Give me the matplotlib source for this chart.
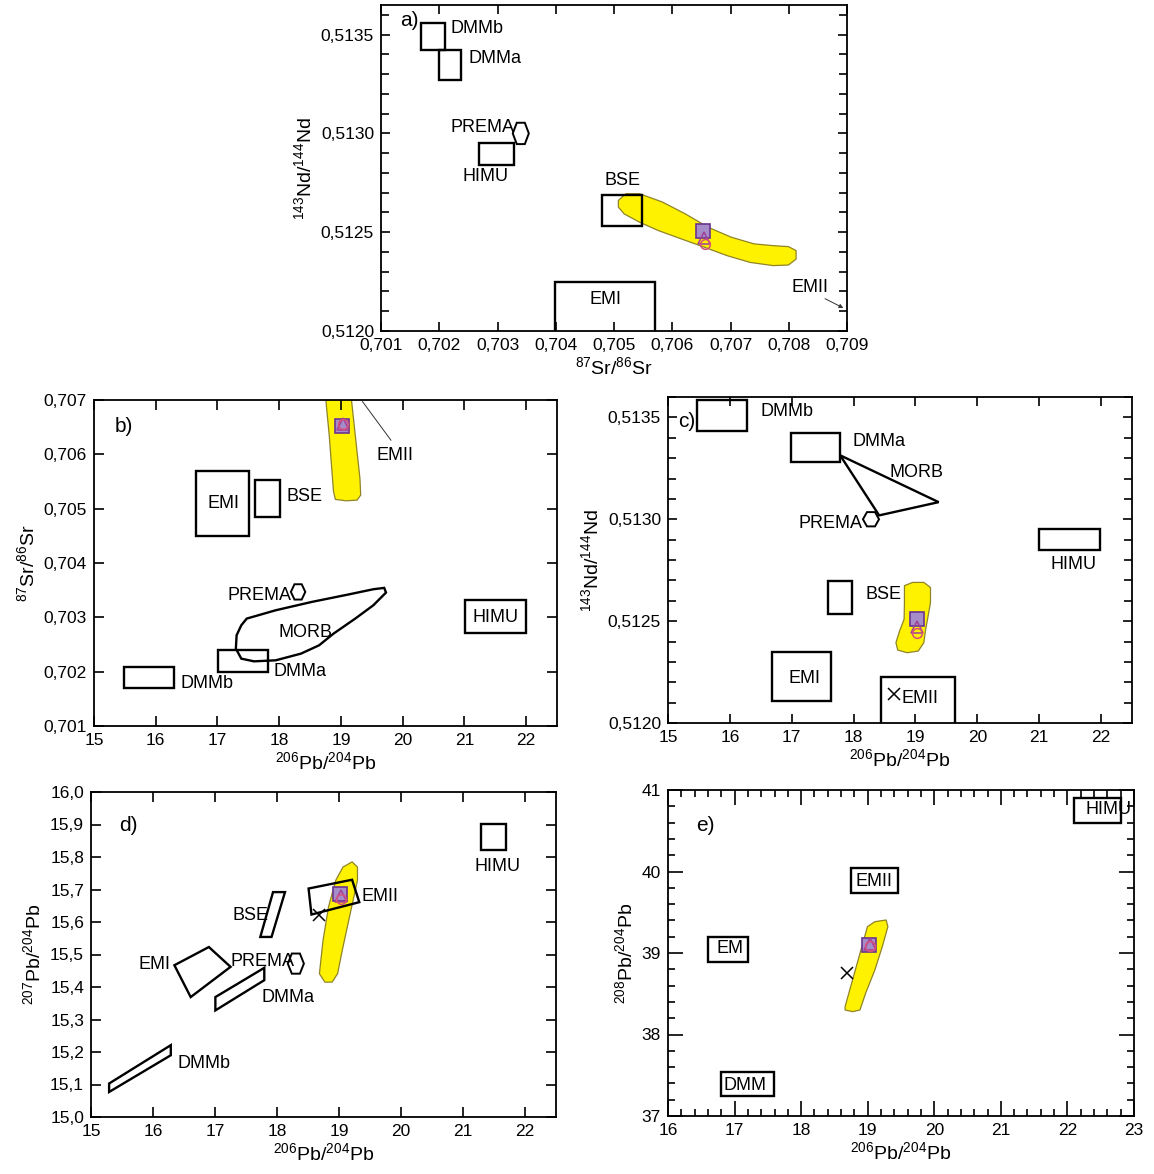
import numpy as np
import matplotlib.pyplot as plt
from matplotlib.patches import Rectangle, Polygon
from matplotlib.ticker import MultipleLocator, FuncFormatter

plt.rcParams['font.family'] = ['Liberation Sans', 'DejaVu Sans']
plt.rcParams['mathtext.default'] = 'regular'
plt.rcParams['font.size'] = 12

W, H = 1154, 1174

# ---- samples (square, triangle, circle) ----
smp_sr = [0.70652, 0.70655, 0.70656]
smp_nd = [0.512508, 0.51247, 0.51244]
smp_pb206 = [19.02, 19.03, 19.03]
smp_pb207 = [15.685, 15.68, 15.672]
smp_pb208 = [39.10, 39.11, 39.09]

# ---- a) Sr vs Nd ----
a_boxes = [('DMMb', 0.70168, 0.70210, 0.51342, 0.51356),
           ('DMMa', 0.70199, 0.70238, 0.51327, 0.51342),
           ('HIMU', 0.70269, 0.70328, 0.51284, 0.51295),
           ('BSE', 0.70479, 0.70548, 0.51253, 0.51269),
           ('EMI', 0.70399, 0.70570, 0.51190, 0.51225)]
a_prema = (0.70340, 0.51300, 0.000138, 0.000054)
a_field_x = [0.705075, 0.705206, 0.705436, 0.705829, 0.706223, 0.706617, 0.707010,
             0.707404, 0.707732, 0.707995, 0.708126, 0.708126, 0.707995, 0.707732,
             0.707339, 0.706945, 0.706551, 0.706157, 0.705764, 0.705436, 0.705173, 0.705075]
a_field_y = [0.512661, 0.512695, 0.512695, 0.512653, 0.512593, 0.512525, 0.512475,
             0.512441, 0.512432, 0.512427, 0.512407, 0.512364, 0.512334, 0.512331,
             0.512347, 0.512381, 0.512424, 0.512466, 0.512508, 0.512551, 0.512593, 0.512627]

# ---- b) 206Pb vs Sr ----
b_boxes = [('EMI', 16.653, 17.509, 0.704500, 0.705698),
           ('BSE', 17.60, 18.01, 0.704850, 0.705526),
           ('DMMa', 17.005, 17.814, 0.701994, 0.702393),
           ('DMMb', 15.492, 16.301, 0.701705, 0.702086),
           ('HIMU', 21.008, 22.005, 0.702719, 0.703314)]
b_prema = (18.306, 0.703468, 0.117, 0.000141)
b_morb_x = [17.474, 17.943, 18.529, 19.115, 19.525, 19.701, 19.730, 19.525, 19.232,
            18.880, 18.646, 18.353, 17.943, 17.591, 17.386, 17.298, 17.310, 17.386]
b_morb_y = [0.702977, 0.703130, 0.703284, 0.703419, 0.703517, 0.703542, 0.703456,
            0.703222, 0.702977, 0.702700, 0.702485, 0.702332, 0.702209, 0.702190,
            0.702240, 0.702424, 0.702670, 0.702854]
b_field_x = [18.752, 19.162, 19.203, 19.261, 19.308, 19.320, 19.261, 19.086, 18.910,
             18.880, 18.851, 18.810, 18.763]
b_field_y = [0.707092, 0.707092, 0.706662, 0.706048, 0.705557, 0.705249, 0.705157,
             0.705145, 0.705170, 0.705311, 0.705741, 0.706355, 0.706908]

# ---- c) 206Pb vs Nd ----
c_boxes = [('DMMb', 15.469, 16.280, 0.513433, 0.513585),
           ('DMMa', 16.983, 17.782, 0.513281, 0.513421),
           ('HIMU', 20.998, 21.989, 0.512849, 0.512950),
           ('BSE', 17.584, 17.981, 0.512534, 0.512698),
           ('EMI', 16.683, 17.632, 0.512107, 0.512348),
           ('EMII', 18.444, 19.645, 0.511900, 0.512227)]
c_prema = (18.281, 0.513000, 0.13, 0.000035)
c_morb_x = [17.782, 19.375, 18.413]
c_morb_y = [0.513314, 0.513084, 0.513019]
c_cross = (18.654, 0.512144)
c_field_x = [18.822, 18.954, 19.135, 19.243, 19.243, 19.195, 19.165, 19.135, 19.044,
             18.864, 18.714, 18.684, 18.744, 18.816, 18.822]
c_field_y = [0.512674, 0.512690, 0.512690, 0.512665, 0.512591, 0.512509, 0.512460,
             0.512394, 0.512353, 0.512345, 0.512358, 0.512394, 0.512452, 0.512509, 0.512591]

# ---- d) 206Pb vs 207Pb ----
d_boxes = [('HIMU', 21.287, 21.696, 15.823, 15.903)]
d_dmmb = ([15.292, 15.292, 16.287, 16.287], [15.077, 15.103, 15.221, 15.190])
d_dmma = ([17.006, 17.006, 17.795, 17.795], [15.328, 15.369, 15.459, 15.421])
d_emi = ([16.345, 16.901, 17.251, 16.608], [15.467, 15.523, 15.462, 15.369])
d_bse = ([17.731, 17.936, 18.129, 17.912], [15.554, 15.692, 15.692, 15.554])
d_emii = ([18.509, 19.211, 19.327, 18.556], [15.703, 15.730, 15.661, 15.623])
d_prema = (18.304, 15.472, 0.13, 0.031)
d_cross = (18.673, 15.621)
d_field_x = [18.684, 18.743, 18.830, 18.947, 19.064, 19.211, 19.298, 19.298, 19.181,
             19.064, 18.977, 18.889, 18.772]
d_field_y = [15.441, 15.544, 15.646, 15.728, 15.769, 15.785, 15.769, 15.728, 15.626,
             15.523, 15.441, 15.415, 15.415]

# ---- e) 206Pb vs 208Pb ----
e_boxes = [('HIMU', 22.103, 22.803, 40.599, 40.898),
           ('EMII', 18.744, 19.455, 39.740, 40.039),
           ('EM', 16.599, 17.204, 38.894, 39.192),
           ('DMM', 16.801, 17.596, 37.245, 37.536)]
e_cross = (18.688, 38.750)
e_field_x = [18.660, 18.772, 18.912, 18.996, 19.107, 19.276, 19.303, 19.219, 19.107,
             18.968, 18.884, 18.772, 18.660]
e_field_y = [38.342, 38.669, 39.078, 39.323, 39.384, 39.405, 39.323, 39.078, 38.791,
             38.505, 38.301, 38.280, 38.301]

YEL = '#fff200'
YEL_EDGE = '#8f8428'
FS = 13


def px_axes(fig, l, t, r, b):
    return fig.add_axes([l / W, 1 - b / H, (r - l) / W, (b - t) / H])


def comma_fmt(nd):
    return FuncFormatter(lambda v, p: f'{v:.{nd}f}'.replace('.', ','))


def style(ax, major=6.5, minor=6.0):
    ax.tick_params(which='both', direction='in', top=True, right=True,
                   labelsize=12.5, width=1.2, pad=5)
    ax.tick_params(which='major', length=major)
    ax.tick_params(which='minor', length=minor)
    for s in ax.spines.values():
        s.set_linewidth(1.3)


def draw_boxes(ax, boxes):
    for name, x0, x1, y0, y1 in boxes:
        ax.add_patch(Rectangle((x0, y0), x1 - x0, y1 - y0, fill=False,
                               ec='black', lw=1.7))


def draw_poly(ax, xs, ys, **kw):
    ax.add_patch(Polygon(np.column_stack([xs, ys]), closed=True, **kw))


def draw_hex(ax, cx, cy, dx, dy):
    xs = [cx - dx, cx - dx / 2, cx + dx / 2, cx + dx, cx + dx / 2, cx - dx / 2]
    ys = [cy, cy + dy, cy + dy, cy, cy - dy, cy - dy]
    draw_poly(ax, xs, ys, fill=False, ec='black', lw=1.4)


def draw_field(ax, xs, ys):
    draw_poly(ax, xs, ys, fc=YEL, ec=YEL_EDGE, lw=0.9, joinstyle='round')


def draw_samples(ax, xs, ys):
    ax.plot(xs[0], ys[0], 's', ms=10, mfc='#a58dc9', mec='#6b3590', mew=1.2, zorder=5)
    ax.plot(xs[1], ys[1], '^', ms=8, mfc='none', mec='#a0409a', mew=1.1, zorder=6)
    ax.plot(xs[2], ys[2], 'o', ms=7, mfc='none', mec='#d9507a', mew=1.1, zorder=6)


def txt(ax, x, y, s, ha='left', size=FS):
    ax.text(x, y, s, ha=ha, va='center', fontsize=size, zorder=7)


fig = plt.figure(figsize=(W / 100, H / 100), dpi=100)

# ---------------- a ----------------
ax = px_axes(fig, 381, 5, 847, 331)
ax.set_xlim(0.701, 0.709)
ax.set_ylim(0.5120, 0.51365)
ax.xaxis.set_major_locator(MultipleLocator(0.001))
ax.yaxis.set_major_locator(MultipleLocator(0.0005))
ax.yaxis.set_minor_locator(MultipleLocator(0.0001))
ax.xaxis.set_major_formatter(comma_fmt(3))
ax.yaxis.set_major_formatter(comma_fmt(4))
style(ax)
draw_field(ax, a_field_x, a_field_y)
draw_boxes(ax, a_boxes)
draw_hex(ax, *a_prema)
draw_samples(ax, smp_sr, smp_nd)
txt(ax, 0.70133, 0.51357, 'a)', size=15)
txt(ax, 0.70219, 0.51353, 'DMMb')
txt(ax, 0.70250, 0.51338, 'DMMa')
txt(ax, 0.70330, 0.51303, 'PREMA', ha='right')
txt(ax, 0.70279, 0.51278, 'HIMU', ha='center')
txt(ax, 0.70515, 0.51276, 'BSE', ha='center')
txt(ax, 0.70486, 0.51216, 'EMI', ha='center')
txt(ax, 0.70836, 0.51222, 'EMII', ha='center')
ax.annotate('', xy=(0.70898, 0.51211), xytext=(0.70858, 0.51217),
            arrowprops=dict(arrowstyle='-|>', lw=0.7, color='#333333',
                            mutation_scale=6))
ax.set_xlabel(r'$^{87}$Sr/$^{86}$Sr', fontsize=14, labelpad=2)
ax.set_ylabel(r'$^{143}$Nd/$^{144}$Nd', fontsize=14, labelpad=4)

# ---------------- b ----------------
ax = px_axes(fig, 94, 400, 557, 726)
ax.set_xlim(15, 22.5)
ax.set_ylim(0.701, 0.707)
ax.xaxis.set_major_locator(MultipleLocator(1))
ax.yaxis.set_major_locator(MultipleLocator(0.001))
ax.yaxis.set_major_formatter(comma_fmt(3))
style(ax, major=7.5)
draw_field(ax, b_field_x, b_field_y)
draw_boxes(ax, b_boxes)
draw_poly(ax, b_morb_x, b_morb_y, fill=False, ec='black', lw=1.7)
draw_hex(ax, *b_prema)
draw_samples(ax, smp_pb206, smp_sr)
txt(ax, 15.33, 0.70651, 'b)', size=15)
txt(ax, 17.10, 0.70510, 'EMI', ha='center')
txt(ax, 18.12, 0.70522, 'BSE')
txt(ax, 18.20, 0.70341, 'PREMA', ha='right')
txt(ax, 18.43, 0.70273, 'MORB', ha='center')
txt(ax, 17.90, 0.70201, 'DMMa')
txt(ax, 16.40, 0.70179, 'DMMb')
txt(ax, 21.50, 0.70300, 'HIMU', ha='center')
txt(ax, 19.88, 0.70597, 'EMII', ha='center')
ax.plot([19.81, 19.35], [0.70626, 0.70697], color='#333333', lw=0.7)
ax.set_xlabel(r'$^{206}$Pb/$^{204}$Pb', fontsize=14, labelpad=2)
ax.set_ylabel(r'$^{87}$Sr/$^{86}$Sr', fontsize=14, labelpad=4)

# ---------------- c ----------------
ax = px_axes(fig, 668, 397, 1132, 723)
ax.set_xlim(15, 22.5)
ax.set_ylim(0.5120, 0.5136)
ax.xaxis.set_major_locator(MultipleLocator(1))
ax.yaxis.set_major_locator(MultipleLocator(0.0005))
ax.yaxis.set_minor_locator(MultipleLocator(0.0001))
ax.yaxis.set_major_formatter(comma_fmt(4))
style(ax)
draw_field(ax, c_field_x, c_field_y)
draw_boxes(ax, c_boxes)
draw_poly(ax, c_morb_x, c_morb_y, fill=False, ec='black', lw=1.7)
draw_hex(ax, *c_prema)
draw_samples(ax, smp_pb206, smp_nd)
ax.plot(*c_cross, 'x', ms=9, mec='black', mew=1.1)
txt(ax, 15.16, 0.51348, 'c)', size=15)
txt(ax, 16.49, 0.51353, 'DMMb')
txt(ax, 17.99, 0.51338, 'DMMa')
txt(ax, 19.01, 0.51323, 'MORB', ha='center')
txt(ax, 18.14, 0.51298, 'PREMA', ha='right')
txt(ax, 21.55, 0.51278, 'HIMU', ha='center')
txt(ax, 18.20, 0.51263, 'BSE')
txt(ax, 17.20, 0.51222, 'EMI', ha='center')
txt(ax, 19.07, 0.51212, 'EMII', ha='center')
ax.set_xlabel(r'$^{206}$Pb/$^{204}$Pb', fontsize=14, labelpad=2)
ax.set_ylabel(r'$^{143}$Nd/$^{144}$Nd', fontsize=14, labelpad=4)

# ---------------- d ----------------
ax = px_axes(fig, 91, 792, 556, 1117)
ax.set_xlim(15, 22.5)
ax.set_ylim(15.0, 16.0)
ax.xaxis.set_major_locator(MultipleLocator(1))
ax.yaxis.set_major_locator(MultipleLocator(0.1))
ax.yaxis.set_major_formatter(comma_fmt(1))
style(ax, major=7.5)
draw_field(ax, d_field_x, d_field_y)
draw_boxes(ax, d_boxes)
for xs, ys in [d_dmmb, d_dmma, d_emi, d_bse, d_emii]:
    draw_poly(ax, xs, ys, fill=False, ec='black', lw=1.7)
draw_hex(ax, *d_prema)
draw_samples(ax, smp_pb206, smp_pb207)
ax.plot(*d_cross, 'x', ms=9, mec='black', mew=1.1)
txt(ax, 15.45, 15.897, 'd)', size=15)
txt(ax, 21.55, 15.771, 'HIMU', ha='center')
txt(ax, 19.37, 15.677, 'EMII')
txt(ax, 17.86, 15.620, 'BSE', ha='right')
txt(ax, 16.29, 15.469, 'EMI', ha='right')
txt(ax, 18.28, 15.477, 'PREMA', ha='right')
txt(ax, 17.75, 15.367, 'DMMa')
txt(ax, 16.40, 15.166, 'DMMb')
ax.set_xlabel(r'$^{206}$Pb/$^{204}$Pb', fontsize=14, labelpad=2)
ax.set_ylabel(r'$^{207}$Pb/$^{204}$Pb', fontsize=14, labelpad=4)

# ---------------- e ----------------
ax = px_axes(fig, 668, 790, 1134, 1116)
ax.set_xlim(16, 23)
ax.set_ylim(37, 41)
ax.xaxis.set_major_locator(MultipleLocator(1))
ax.xaxis.set_minor_locator(MultipleLocator(0.2))
ax.yaxis.set_major_locator(MultipleLocator(1))
ax.yaxis.set_minor_locator(MultipleLocator(0.2))
style(ax, major=11, minor=5)
draw_field(ax, e_field_x, e_field_y)
draw_boxes(ax, e_boxes)
draw_samples(ax, smp_pb206, smp_pb208)
ax.plot(*e_cross, 'x', ms=9, mec='black', mew=1.1)
txt(ax, 16.42, 40.57, 'e)', size=15)
txt(ax, 22.62, 40.76, 'HIMU', ha='center')
txt(ax, 19.10, 39.88, 'EMII', ha='center')
txt(ax, 16.93, 39.06, 'EM', ha='center')
txt(ax, 17.15, 37.38, 'DMM', ha='center')
ax.set_xlabel(r'$^{206}$Pb/$^{204}$Pb', fontsize=14, labelpad=2)
ax.set_ylabel(r'$^{208}$Pb/$^{204}$Pb', fontsize=14, labelpad=4)

fig.savefig('out.png', dpi=100)
